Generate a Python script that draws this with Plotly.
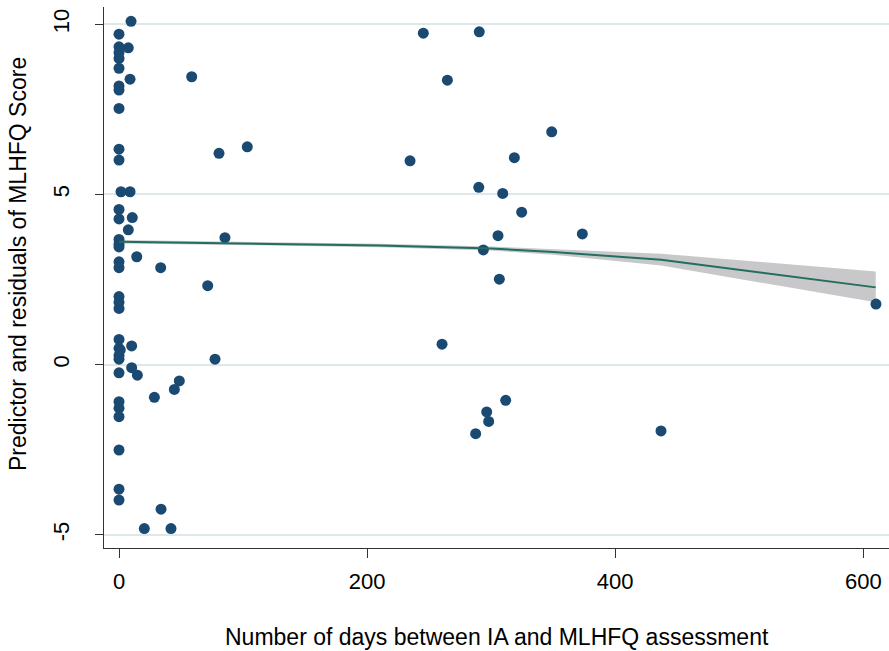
import plotly.graph_objects as go

# Scatter data: days between IA and MLHFQ assessment vs predictor+residual
days = [9.7, 0, 0, 7.5, 0, 0, 0, 8.9, 58.6, 0, 0, 0, 0, 0, 80.6, 103.4, 1.6, 8.9,
        0, 0, 10.7, 7.5, 0, 0, 0, 85.4, 14.3, 0, 0, 33.6, 71.5, 0, 0, 0, 0, 0, 1.0,
        10.2, 0, 0, 77.4, 0, 10.2, 14.8, 48.6, 44.6, 28.5, 0, 0, 0, 0, 0, 0, 33.9,
        20.4, 41.9,
        245.3, 290.4, 264.7, 348.8, 234.6, 318.7, 290.0, 309.3, 324.6, 305.5, 373.5,
        293.7, 306.6, 260.4, 311.7, 296.4, 298.0, 287.5, 436.9, 610.2]
score = [10.09, 9.71, 9.34, 9.31, 9.17, 9.00, 8.71, 8.39, 8.46, 8.19, 8.07, 7.53, 6.33,
         6.01, 6.21, 6.40, 5.08, 5.08, 4.56, 4.28, 4.32, 3.96, 3.68, 3.54, 3.46, 3.73,
         3.17, 3.02, 2.85, 2.85, 2.32, 2.00, 1.83, 1.65, 0.74, 0.48, 0.43, 0.55, 0.27,
         0.16, 0.16, -0.24, -0.09, -0.31, -0.48, -0.73, -0.96, -1.09, -1.28, -1.53,
         -2.51, -3.66, -3.98, -4.25, -4.82, -4.82,
         9.74, 9.78, 8.36, 6.84, 5.99, 6.08, 5.21, 5.03, 4.48, 3.79, 3.84, 3.37, 2.51,
         0.60, -1.05, -1.39, -1.67, -2.03, -1.95, 1.78]

# Fitted line and confidence band
fit_x = [0, 110, 210, 300, 350, 437, 610]
fit_y = [3.61, 3.56, 3.50, 3.41, 3.31, 3.08, 2.27]
fit_hi = [3.66, 3.61, 3.55, 3.47, 3.39, 3.26, 2.74]
fit_lo = [3.56, 3.51, 3.45, 3.35, 3.23, 2.91, 1.83]

x_ticks = [0, 200, 400, 600]
x_ticktext = ["0", "200", "400", "600"]
y_ticks = [-5, 0, 5, 10]
y_ticktext = ["-5", "0", "5", "10"]

FONT = "Liberation Sans, Arial, sans-serif"

fig = go.Figure()
fig.add_trace(go.Scatter(
    x=fit_x + fit_x[::-1], y=fit_hi + fit_lo[::-1],
    fill="toself", fillcolor="#c8c8ca", line=dict(width=0),
    mode="lines", hoverinfo="skip", showlegend=False))
fig.add_trace(go.Scatter(
    x=days, y=score, mode="markers",
    marker=dict(size=11, color="#1a4a72", line=dict(width=0)),
    showlegend=False))
fig.add_trace(go.Scatter(
    x=fit_x, y=fit_y, mode="lines",
    line=dict(color="#236e5f", width=2), showlegend=False))

fig.update_layout(
    width=889, height=651,
    margin=dict(l=104, r=0, t=7, b=103),
    paper_bgcolor="white", plot_bgcolor="white",
    font=dict(family=FONT, size=22, color="#000000"),
    showlegend=False,
    xaxis=dict(
        range=[-12.1, 620.7], tickvals=x_ticks, ticktext=x_ticktext,
        showgrid=False, zeroline=False,
        showline=True, linecolor="#333333", linewidth=1,
        ticks="outside", ticklen=9, tickcolor="#333333", tickwidth=1,
        tickfont=dict(family=FONT, size=22, color="#000000"),
        ticklabelstandoff=5,
    ),
    yaxis=dict(
        range=[-5.39, 10.51], tickvals=y_ticks, ticktext=y_ticktext,
        showgrid=True, gridcolor="#dde8eb", gridwidth=2, zeroline=False,
        showline=True, linecolor="#333333", linewidth=1,
        ticks="outside", ticklen=8, tickcolor="#333333", tickwidth=1,
        tickangle=-90,
        tickfont=dict(family=FONT, size=22, color="#000000"),
        ticklabelstandoff=17,
    ),
    annotations=[
        dict(text="Number of days between IA and MLHFQ assessment",
             xref="paper", yref="paper", x=0.5, y=(548 - 637) / 541,
             xanchor="center", yanchor="middle", showarrow=False,
             font=dict(family=FONT, size=23, color="#000000")),
        dict(text="Predictor and residuals of MLHFQ Score",
             xref="paper", yref="paper", x=(18 - 104) / 785, y=(548 - 264) / 541,
             xanchor="center", yanchor="middle", showarrow=False, textangle=-90,
             font=dict(family=FONT, size=23, color="#000000")),
    ],
)

fig.write_html("out.html")
